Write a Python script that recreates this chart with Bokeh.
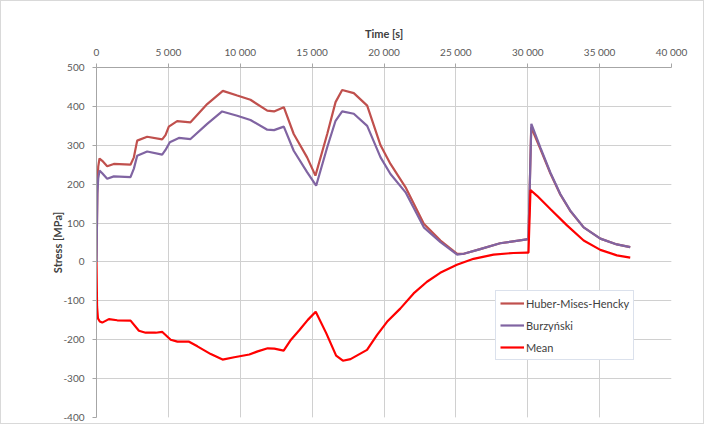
from bokeh.plotting import figure
from bokeh.models import Range1d, LinearAxis, FixedTicker, Legend, LegendItem, Grid, Title
from bokeh.embed import file_html
from bokeh.resources import INLINE

# ---------------- data ----------------
hmh_t = [0, 60, 120, 209, 400, 743, 1206, 2365, 2600, 2830, 3525, 4570, 4800, 5030, 5610, 6540,
         7700, 8790, 9790, 10710, 11880, 12350, 13030, 13720, 14650, 15230, 16050, 16630, 17090,
         17900, 18830, 19760, 20450, 21500, 22770, 23930, 25090, 25550, 26690, 28080, 29930,
         30050, 30240, 30880, 31570, 32270, 32960, 33890, 35050, 36200, 37130]
hmh_v = [0, 183, 245, 266, 260, 246, 252, 250, 269, 312, 322, 315, 326, 348, 362, 359,
         406, 440, 428, 417, 389, 387, 398, 329, 269, 222, 329, 411, 442,
         434, 402, 300, 252, 192, 98, 55, 21, 21, 33, 48, 58,
         60, 346, 290, 228, 173, 131, 89, 60, 45, 38]

burz_t = [0, 60, 120, 209, 400, 743, 1206, 2365, 2600, 2830, 3525, 4570, 4800, 5100, 5730, 6540,
          7700, 8740, 9790, 10710, 11880, 12350, 13030, 13720, 14650, 15280, 16050, 16630, 17090,
          17900, 18830, 19760, 20450, 21500, 22770, 23930, 25090, 25550, 26690, 28080, 29930,
          30050, 30250, 30880, 31570, 32270, 32960, 33890, 35050, 36200, 37130]
burz_v = [0, 175, 215, 235, 228, 214, 220, 218, 240, 273, 284, 276, 288, 308, 319, 316,
          355, 387, 376, 365, 340, 339, 348, 286, 231, 196, 295, 363, 387,
          381, 350, 269, 226, 179, 89, 51, 19, 21, 33, 48, 58,
          60, 355, 294, 230, 174, 132, 89, 60, 45, 38]

mean_t = [0, 40, 100, 230, 400, 860, 1440, 2370, 2950, 3420, 4120, 4580, 5160, 5630, 6440, 7020,
          7950, 8770, 9580, 10630, 11210, 11910, 12370, 13020, 13530, 14120, 14700, 15250, 15980,
          16670, 17140, 17670, 18820, 19510, 20210, 21130, 22060, 22990, 23910, 25070, 26230,
          27620, 29000, 29950, 30050, 30190, 30650, 31570, 32730, 33890, 35050, 36200, 37130]
mean_v = [0, -115, -145, -153, -156, -147, -150, -151, -177, -182, -182, -180, -200, -205, -205, -217,
          -237, -251, -245, -238, -230, -222, -223, -228, -200, -175, -149, -128, -183,
          -241, -254, -250, -226, -188, -154, -120, -81, -51, -28, -7, 8,
          19, 23, 24, 24, 185, 170, 136, 94, 55, 31, 17, 11]

x_ticks = [0, 5000, 10000, 15000, 20000, 25000, 30000, 35000, 40000]
x_tick_labels = ["0", "5 000", "10 000", "15 000", "20 000", "25 000", "30 000", "35 000", "40 000"]
y_ticks = [-400, -300, -200, -100, 0, 100, 200, 300, 400, 500]
y_tick_labels = ["-400", "-300", "-200", "-100", "0", "100", "200", "300", "400", "500"]

x_title = "Time [s]"
y_title = "Stress [MPa]"
series_names = ["Huber-Mises-Hencky", "Burzyński", "Mean"]
series_colors = ["#C0504D", "#8064A2", "#FF0000"]

FONT = "Lato"

# ---------------- figure ----------------
p = figure(width=704, height=424, output_backend="svg", toolbar_location=None,
           x_range=Range1d(0, 40000), y_range=Range1d(-400, 500),
           x_axis_location=None, y_axis_location=None,
           min_border_left=95, min_border_right=34, min_border_top=66, min_border_bottom=8)
p.outline_line_color = None
p.background_fill_color = "white"
p.border_fill_color = "white"
p.styles = {"border": "1px solid #D9D9D9"}

p.title = Title(text=x_title, align="center", offset=-40, standoff=6,
                text_font=FONT, text_font_size="11px", text_font_style="bold",
                text_color="#404040")

xaxis = LinearAxis(ticker=FixedTicker(ticks=x_ticks),
                   major_label_overrides={t: l for t, l in zip(x_ticks, x_tick_labels)})
yaxis = LinearAxis(ticker=FixedTicker(ticks=y_ticks),
                   major_label_overrides={t: l for t, l in zip(y_ticks, y_tick_labels)},
                   axis_label=y_title)
for ax in (xaxis, yaxis):
    ax.axis_line_color = "#A6A6A6"
    ax.major_tick_line_color = "#A6A6A6"
    ax.major_tick_out = 4
    ax.major_tick_in = 0
    ax.minor_tick_line_color = None
    ax.major_label_text_font = FONT
    ax.major_label_text_font_size = "10px"
    ax.major_label_text_color = "#595959"
    ax.axis_label_text_font = FONT
    ax.axis_label_text_font_size = "11px"
    ax.axis_label_text_font_style = "bold"
    ax.axis_label_text_color = "#404040"
xaxis.major_label_standoff = 6
yaxis.major_label_standoff = 8
yaxis.axis_label_standoff = -4
p.add_layout(xaxis, "above")
p.add_layout(yaxis, "left")

p.add_layout(Grid(dimension=0, ticker=xaxis.ticker, grid_line_color="#D0D0D0", grid_line_width=1))
p.add_layout(Grid(dimension=1, ticker=yaxis.ticker, grid_line_color="#D0D0D0", grid_line_width=1))

r1 = p.line(hmh_t, hmh_v, line_color=series_colors[0], line_width=2.2)
r2 = p.line(burz_t, burz_v, line_color=series_colors[1], line_width=2.2)
r3 = p.line(mean_t, mean_v, line_color=series_colors[2], line_width=2.2)

legend = Legend(items=[LegendItem(label=series_names[0], renderers=[r1]),
                       LegendItem(label=series_names[1], renderers=[r2]),
                       LegendItem(label=series_names[2], renderers=[r3])],
                location=(399, 57))
legend.label_text_font = FONT
legend.label_text_font_size = "11px"
legend.label_text_color = "#404040"
legend.glyph_width = 24
legend.glyph_height = 14
legend.label_height = 16
legend.label_standoff = 2
legend.spacing = 6
legend.padding = 4
legend.margin = 0
legend.border_line_color = "#B8C4DA"
legend.background_fill_alpha = 1.0
p.add_layout(legend, "center")

open("out.html", "w").write(file_html(p, INLINE))
